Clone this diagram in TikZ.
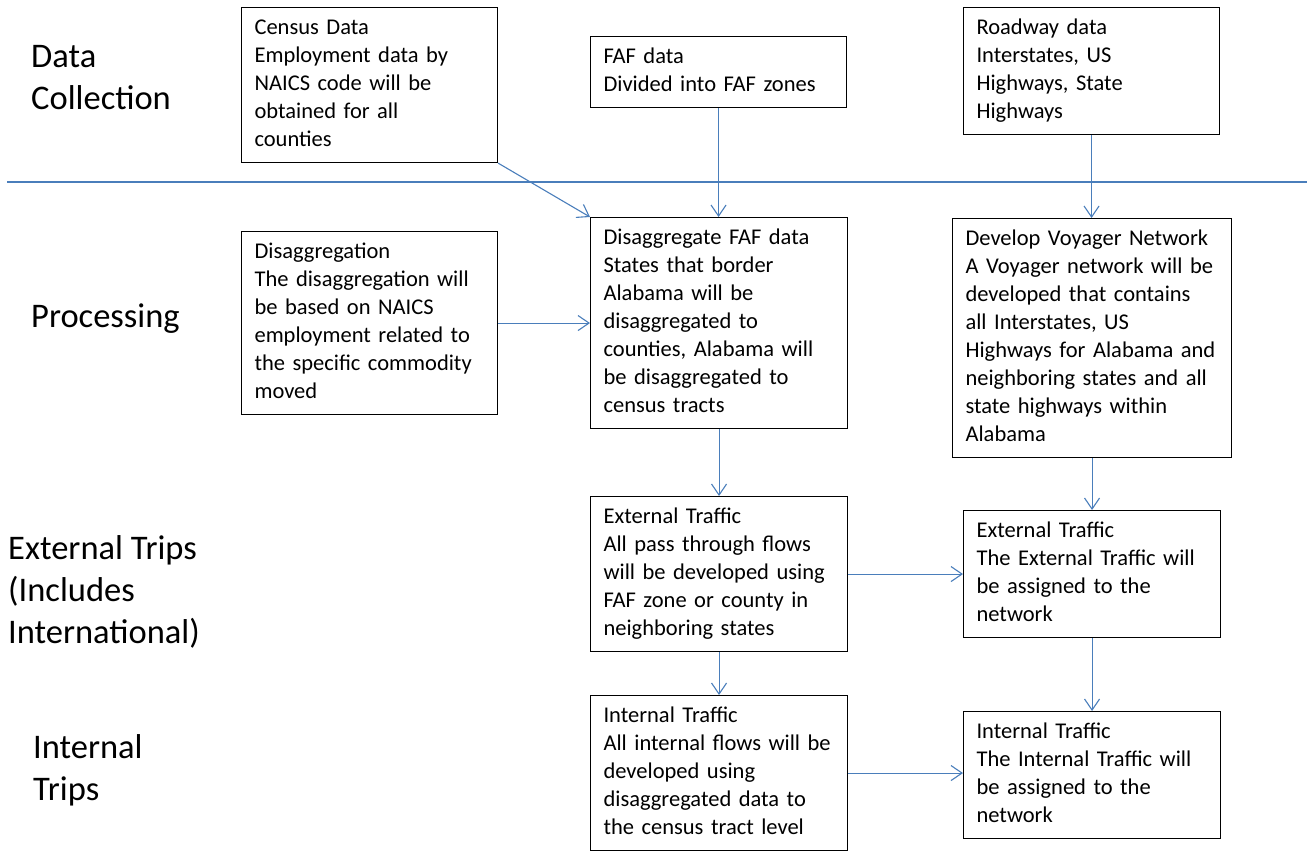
\documentclass[tikz,border=0pt]{standalone}
\usepackage{fontspec}
\setmainfont{Carlito}
\usetikzlibrary{arrows.meta}

\definecolor{flowblue}{RGB}{74,126,187}

\begin{document}
\begin{tikzpicture}[x=1pt,y=-1pt,
  box/.style={draw,line width=1.1pt,anchor=north west,align=left,
    inner xsep=13pt,inner ysep=7.5pt,text width=230pt,
    font=\fontsize{22.5}{28}\selectfont,
    execute at begin node=\strut,execute at end node=\strut},
  stage/.style={anchor=north west,align=left,inner sep=0pt,
    font=\fontsize{34.5}{42}\selectfont,execute at begin node=\strut},
  flow/.style={draw=flowblue,line width=1.1pt,-{Straight Barb[length=11pt,width=15pt]}}]
\useasboundingbox (0,0) rectangle (1307,852);

\node [stage] (collect) at (31,45.6) {Data\\Collection};
\node [stage] (process) at (31,297.6) {Processing};
\node [stage] (external) at (8,535.6) {External Trips\\(Includes\\International)};
\node [stage] (internal) at (33,734.6) {Internal\\Trips};

\draw [flowblue,line width=1.1pt] (7,182) -- (1307,182);

\node [box] (census) at (241,7) {Census Data\\Employment data by\\NAICS code will be\\obtained for all\\counties};
\node [box] (faf) at (590,36) {FAF data\\Divided into FAF zones};
\node [box] (road) at (963,7) {Roadway data\\Interstates, US\\Highways, State\\Highways};

\node [box] (disagg) at (241,231) {Disaggregation\\The disaggregation will\\be based on NAICS\\employment related to\\the specific commodity\\moved};
\node [box,text width=231pt] (dfaf) at (590,217) {Disaggregate FAF data\\States that border\\Alabama will be\\disaggregated to\\counties, Alabama will\\be disaggregated to\\census tracts};
\node [box,text width=253pt] (voyager) at (952,218) {Develop Voyager Network\\A Voyager network will be\\developed that contains\\all Interstates, US\\Highways for Alabama and\\neighboring states and all\\state highways within\\Alabama};

\node [box,text width=231pt] (extmid) at (590,496) {External Traffic\\All pass through flows\\will be developed using\\FAF zone or county in\\neighboring states};
\node [box,text width=231pt] (extright) at (963,510) {External Traffic\\The External Traffic will\\be assigned to the\\network};

\node [box,text width=231pt] (intmid) at (590,695) {Internal Traffic\\All internal flows will be\\developed using\\disaggregated data to\\the census tract level};
\node [box,text width=231pt] (intright) at (963,711) {Internal Traffic\\The Internal Traffic will\\be assigned to the\\network};

\draw [flow] (census.south east) -- (dfaf.north west);
\draw [flow] (faf.south) -- (faf.south |- dfaf.north);
\draw [flow] (road.south) -- (road.south |- voyager.north);
\draw [flow] (disagg.east) -- (disagg.east -| dfaf.west);
\draw [flow] (dfaf.south) -- (dfaf.south |- extmid.north);
\draw [flow] (voyager.south) -- (voyager.south |- extright.north);
\draw [flow] (extmid.east) -- (extmid.east -| extright.west);
\draw [flow] (extmid.south) -- (extmid.south |- intmid.north);
\draw [flow] (extright.south) -- (extright.south |- intright.north);
\draw [flow] (intmid.east) -- (intmid.east -| intright.west);
\end{tikzpicture}
\end{document}
